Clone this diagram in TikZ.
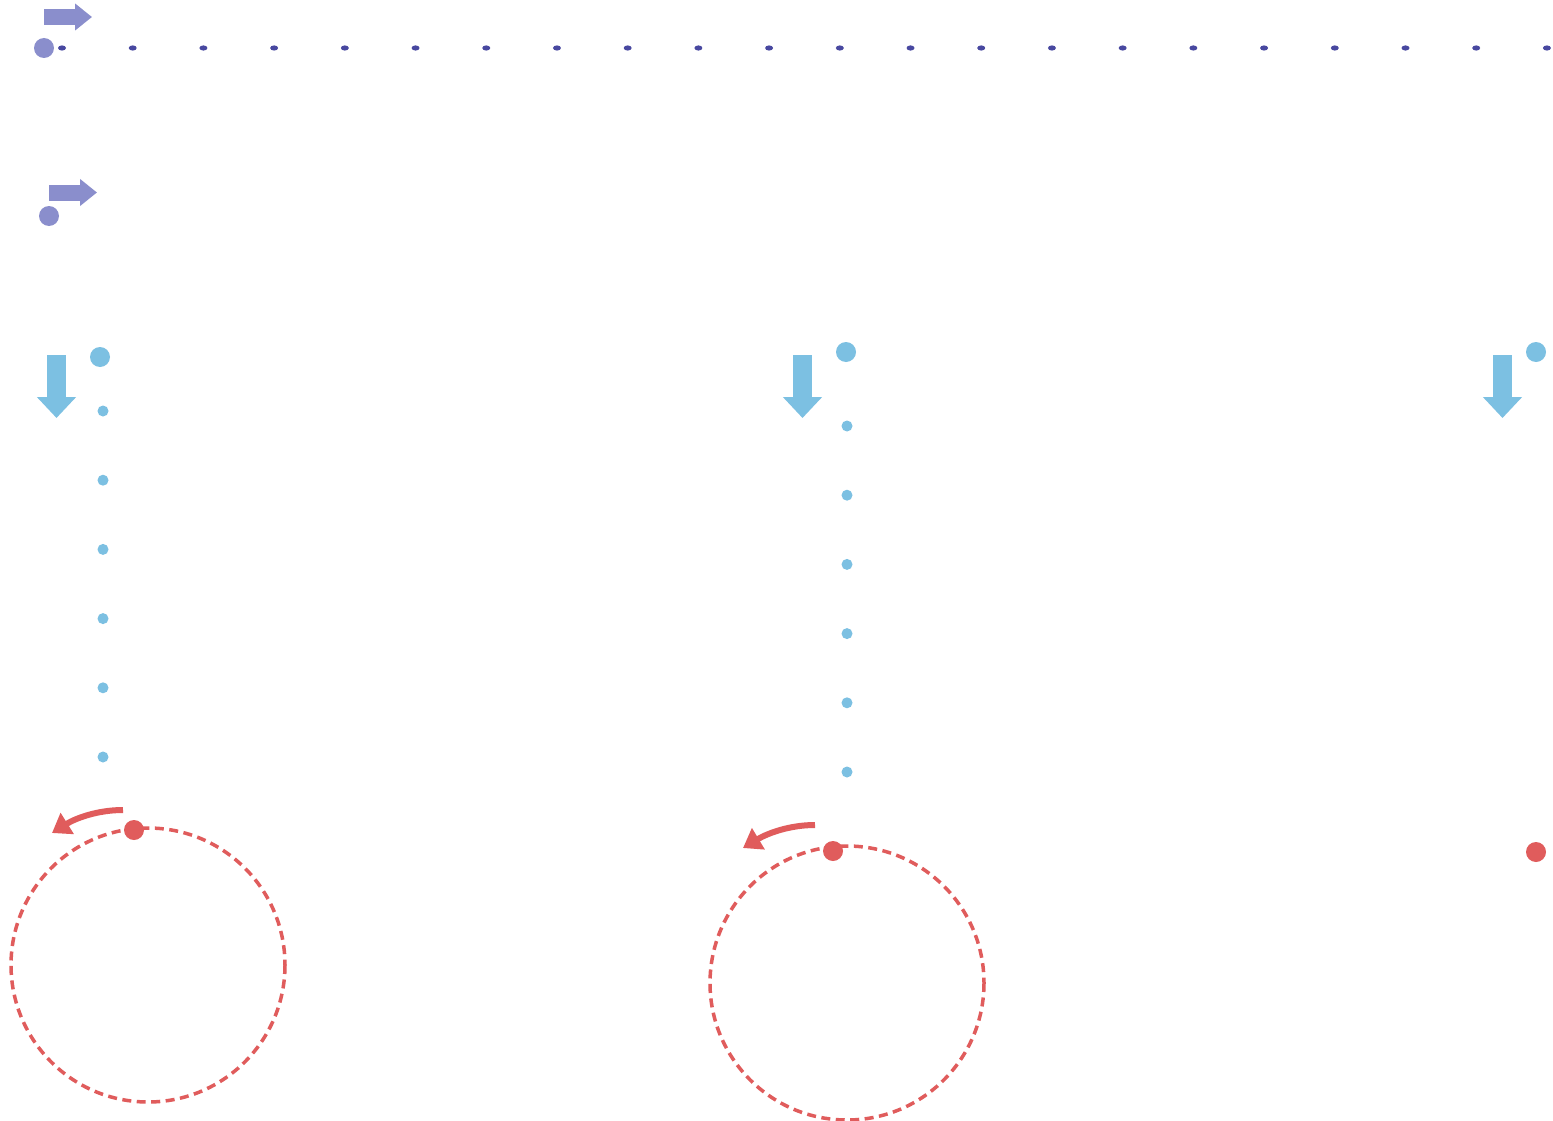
\documentclass[tikz,border=0pt]{standalone}
\usetikzlibrary{arrows.meta}
\definecolor{lavender}{RGB}{138,142,204}
\definecolor{navydot}{RGB}{72,72,160}
\definecolor{skyblue}{RGB}{124,192,226}
\definecolor{coral}{RGB}{224,92,92}
\begin{document}
\begin{tikzpicture}[x=1pt, y=-1pt,
    blockright/.style={lavender, line width=16pt, -{Triangle[length=17pt, width=26pt]}},
    blockdown/.style={skyblue, line width=19pt, -{Triangle[length=21pt, width=38pt]}},
    track/.style={coral, line width=3.5pt, dash pattern=on 9pt off 5.5pt},
    turn/.style={coral, line width=6pt, -{Triangle[length=18pt, width=24pt]}}]
    \useasboundingbox[fill=white] (0,0) rectangle (1553,1121);
    % horizontal runs
    \draw[blockright] (44,17) -- (92,17);
    \fill[lavender] (44,48) circle[radius=10];
    \foreach \i in {0,...,21}
        \fill[navydot] (62+70.71*\i,48) ellipse[x radius=4, y radius=2.6];
    \draw[blockright] (49,192.5) -- (97,192.5);
    \fill[lavender] (49,216) circle[radius=10];
    % falling columns
    \draw[blockdown] (56.5,355) -- (56.5,418);
    \fill[skyblue] (100,357) circle[radius=10];
    \foreach \i in {0,...,5}
        \fill[skyblue] (103,411+69.2*\i) circle[radius=5.5];
    \draw[blockdown] (802.5,355) -- (802.5,418);
    \fill[skyblue] (846,352) circle[radius=10];
    \foreach \i in {0,...,5}
        \fill[skyblue] (847,426+69.2*\i) circle[radius=5.5];
    \draw[blockdown] (1502.5,355) -- (1502.5,418);
    \fill[skyblue] (1536,352) circle[radius=10];
    % rolling circles
    \draw[track] (148,965) circle[radius=137];
    \fill[coral] (134,830) circle[radius=10];
    \draw[turn] (123,810) .. controls (98,810) and (76,818) .. (52,833);
    \draw[track] (847,983) circle[radius=137];
    \fill[coral] (833,851) circle[radius=10];
    \draw[turn] (815,825) .. controls (790,825) and (768,833) .. (743,848);
    \fill[coral] (1536,852) circle[radius=10];
\end{tikzpicture}
\end{document}
